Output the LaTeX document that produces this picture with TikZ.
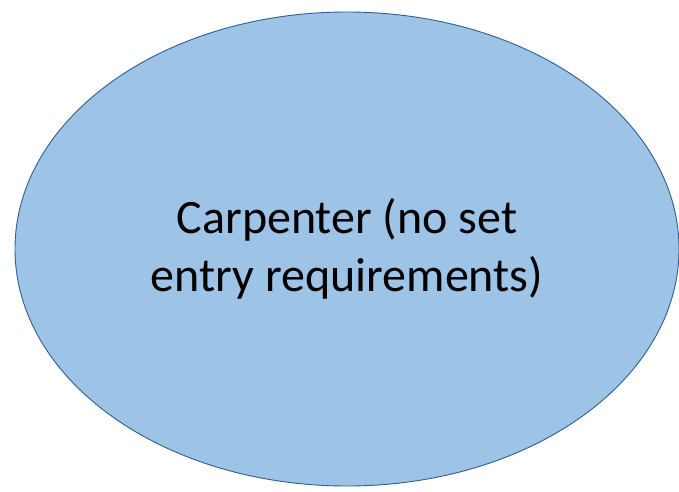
\documentclass[tikz,border=0pt]{standalone}
\usepackage{fontspec}
\setmainfont{Carlito}
\usepackage{tikz}
\usetikzlibrary{shapes.geometric,positioning}
\definecolor{ovalfill}{HTML}{9DC3E6}
\definecolor{ovaldraw}{HTML}{2F5F8F}

\begin{document}
\begin{tikzpicture}[
        x=1pt, y=1pt,
        oval/.style = {draw=ovaldraw, fill=ovalfill, ellipse, line width=0.9pt,
                       minimum width=664pt, minimum height=474pt, inner sep=0pt,
                       align=center, font=\fontsize{48}{58}\selectfont},
    ]
        % ---- marco ----
        \useasboundingbox (0,0) rectangle (679,491);

        % ---- nodo ----
        \node (carpenter) [oval] at (347,242)
            {Carpenter (no set\\entry requirements)};
    \end{tikzpicture}
\end{document}
